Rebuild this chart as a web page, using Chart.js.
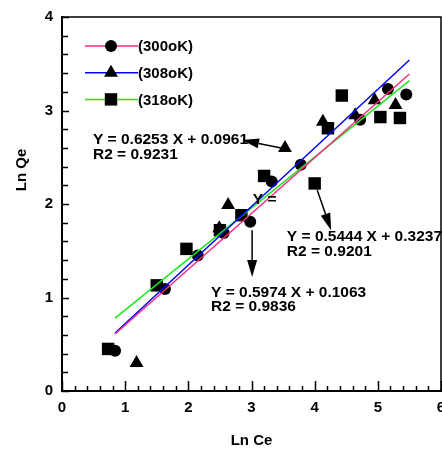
<!DOCTYPE html>
<html><head><meta charset="utf-8">
<script src="https://cdn.jsdelivr.net/npm/chart.js@4/dist/chart.umd.min.js"></script>
<style>html,body{margin:0;padding:0;background:#fff}#wrap{width:442px;height:450px}</style>
</head><body><div id="wrap"><canvas id="c" width="442" height="450"></canvas></div>
<script>
// ---- data ----
const seriesNames = ['(300oK)', '(308oK)', '(318oK)'];
const x300 = [0.84, 1.63, 2.15, 2.56, 2.98, 3.32, 3.78, 4.72, 5.16, 5.45];
const y300 = [0.43, 1.09, 1.45, 1.69, 1.81, 2.24, 2.42, 2.90, 3.23, 3.17];
const x308 = [1.18, 2.49, 2.63, 3.53, 4.13, 4.64, 4.95, 5.28];
const y308 = [0.30, 1.74, 1.99, 2.60, 2.88, 2.95, 3.11, 3.06];
const x318 = [0.73, 1.50, 1.97, 2.50, 2.84, 3.20, 4.00, 4.21, 4.43, 5.04, 5.35];
const y318 = [0.45, 1.13, 1.52, 1.72, 1.88, 2.30, 2.22, 2.81, 3.16, 2.93, 2.92];
// fitted straight lines (end points)
const fitX = [0.84, 5.50];
const fit300 = [0.61, 3.39];
const fit308 = [0.62, 3.54];
const fit318 = [0.78, 3.32];
const eq300 = ['Y = 0.5974 X + 0.1063', 'R2 = 0.9836'];
const eq308 = ['Y = 0.6253 X + 0.0961', 'R2 = 0.9231'];
const eq318 = ['Y = 0.5444 X + 0.3237', 'R2 = 0.9201'];
const xTicks = [0, 1, 2, 3, 4, 5, 6];
const yTicks = [0, 1, 2, 3, 4];
const xTitle = 'Ln Ce';
const yTitle = 'Ln Qe';

const lineColors = ['#ff2a80', '#0000ff', '#1ee81e'];
const markers = ['circle', 'triangle', 'rect'];
const FONT = '"Liberation Sans", Arial, sans-serif';

const pts = (xs, ys) => xs.map((v, i) => ({x: v, y: ys[i]}));

function drawMarker(ctx, style, cx, cy) {
  ctx.fillStyle = '#000';
  ctx.beginPath();
  if (style === 'circle') { ctx.arc(cx, cy, 6, 0, Math.PI * 2); }
  else if (style === 'triangle') {
    const r = 8;
    ctx.moveTo(cx, cy - r);
    ctx.lineTo(cx + r * 0.866, cy + r / 2);
    ctx.lineTo(cx - r * 0.866, cy + r / 2);
    ctx.closePath();
  } else { ctx.rect(cx - 6.2, cy - 6.2, 12.4, 12.4); }
  ctx.fill();
}

function arrow(ctx, x1, y1, x2, y2) {
  const ang = Math.atan2(y2 - y1, x2 - x1);
  const L = 17, W = 5;
  const bx = x2 - L * Math.cos(ang), by = y2 - L * Math.sin(ang);
  ctx.strokeStyle = '#000'; ctx.lineWidth = 1.5;
  ctx.beginPath(); ctx.moveTo(x1, y1); ctx.lineTo(bx, by); ctx.stroke();
  ctx.fillStyle = '#000';
  ctx.beginPath();
  ctx.moveTo(x2, y2);
  ctx.lineTo(bx + W * Math.sin(ang), by - W * Math.cos(ang));
  ctx.lineTo(bx - W * Math.sin(ang), by + W * Math.cos(ang));
  ctx.closePath(); ctx.fill();
}

// annotation placement in data units
const notes = [
  {text: eq308, at: [0.49, 2.684], from: [3.53, 2.59], to: [2.85, 2.684]},
  {text: eq318, at: [3.56, 1.647], from: [4.04, 2.15], to: [4.26, 1.72]},
  {text: eq300, at: [2.36, 1.053], from: [3.01, 1.72], to: [3.01, 1.22]}
];

const deco = {
  id: 'deco',
  afterDatasetsDraw(chart) {
    const {ctx, chartArea: a, scales: {x, y}} = chart;
    ctx.save();
    // frame top & right
    ctx.strokeStyle = '#000'; ctx.lineWidth = 1.5;
    ctx.beginPath();
    ctx.moveTo(a.left, a.top); ctx.lineTo(a.right, a.top); ctx.lineTo(a.right, a.bottom);
    ctx.stroke();
    // inner ticks
    ctx.lineWidth = 1.5;
    for (let i = 0; i <= 30; i++) {
      const px = Math.round(x.getPixelForValue(i * 0.2)) + 0.5;
      const len = i % 5 === 0 ? 10 : 5;
      ctx.beginPath(); ctx.moveTo(px, a.bottom); ctx.lineTo(px, a.bottom - len); ctx.stroke();
    }
    for (let i = 0; i <= 20; i++) {
      const py = Math.round(y.getPixelForValue(i * 0.2)) + 0.5;
      const len = i % 5 === 0 ? 7 : 6;
      ctx.beginPath(); ctx.moveTo(a.left, py); ctx.lineTo(a.left + len, py); ctx.stroke();
    }
    // legend
    ctx.font = 'bold 15px ' + FONT;
    ctx.textBaseline = 'middle'; ctx.textAlign = 'left';
    for (let i = 0; i < 3; i++) {
      const ly = 46 + 26.7 * i;
      ctx.strokeStyle = lineColors[i]; ctx.lineWidth = 1.5;
      ctx.beginPath(); ctx.moveTo(85, ly); ctx.lineTo(138, ly); ctx.stroke();
      drawMarker(ctx, markers[i], 111, ly);
      ctx.fillStyle = '#000';
      ctx.fillText(seriesNames[i], 138, ly + 1);
    }
    // equations and arrows
    ctx.font = 'bold 15.5px ' + FONT;
    for (const n of notes) {
      const tx = x.getPixelForValue(n.at[0]), ty = y.getPixelForValue(n.at[1]);
      ctx.fillStyle = '#000';
      ctx.textBaseline = 'middle';
      ctx.fillText(n.text[0], tx, ty);
      ctx.fillText(n.text[1], tx, ty + 14.5);
      arrow(ctx, x.getPixelForValue(n.from[0]), y.getPixelForValue(n.from[1]),
                 x.getPixelForValue(n.to[0]), y.getPixelForValue(n.to[1]));
    }
    // stray partial label
    ctx.fillStyle = '#000';
    ctx.fillText('Y =', x.getPixelForValue(3.02), y.getPixelForValue(2.043));
    // y title
    ctx.save();
    ctx.translate(22, 170);
    ctx.rotate(-Math.PI / 2);
    ctx.textAlign = 'center'; ctx.textBaseline = 'middle';
    ctx.font = 'bold 15px ' + FONT;
    ctx.fillText(yTitle, 0, 0);
    ctx.restore();
    ctx.restore();
  }
};

const datasets = [
  {data: pts(fitX, fit300), showLine: true, borderColor: lineColors[0], borderWidth: 1.5, pointRadius: 0, order: 1},
  {data: pts(fitX, fit308), showLine: true, borderColor: lineColors[1], borderWidth: 1.5, pointRadius: 0, order: 1},
  {data: pts(fitX, fit318), showLine: true, borderColor: lineColors[2], borderWidth: 1.5, pointRadius: 0, order: 1},
  {data: pts(x300, y300), pointStyle: 'circle', pointRadius: 6, backgroundColor: '#000', borderColor: '#000', borderWidth: 0, order: 2},
  {data: pts(x308, y308), pointStyle: 'triangle', pointRadius: 8, backgroundColor: '#000', borderColor: '#000', borderWidth: 0, order: 2},
  {data: pts(x318, y318), pointStyle: 'rect', pointRadius: 8.8, backgroundColor: '#000', borderColor: '#000', borderWidth: 0, order: 2}
];

new Chart(document.getElementById('c'), {
  type: 'scatter',
  data: {datasets},
  options: {
    responsive: false,
    animation: false,
    layout: {autoPadding: false, padding: {top: 17, right: 1, left: 0, bottom: 0}},
    plugins: {legend: {display: false}, tooltip: {enabled: false}},
    scales: {
      x: {
        type: 'linear', min: 0, max: 6,
        afterBuildTicks: s => { s.ticks = xTicks.map(v => ({value: v})); },
        ticks: {color: '#000', font: {family: FONT, size: 15, weight: 'bold'}, padding: 8, maxRotation: 0},
        grid: {display: false, drawTicks: false},
        border: {display: true, color: '#000', width: 2},
        title: {display: true, text: xTitle, color: '#000', font: {family: FONT, size: 15, weight: 'bold'}, padding: {top: 0, bottom: 0}},
        afterFit: s => { s.height = 59; s.paddingLeft = 0; s.paddingRight = 0; }
      },
      y: {
        type: 'linear', min: 0, max: 4,
        afterBuildTicks: s => { s.ticks = yTicks.map(v => ({value: v})); },
        ticks: {color: '#000', font: {family: FONT, size: 15, weight: 'bold'}, padding: 9},
        grid: {display: false, drawTicks: false},
        border: {display: true, color: '#000', width: 2},
        afterFit: s => { s.width = 62; s.paddingTop = 0; s.paddingBottom = 0; }
      }
    }
  },
  plugins: [deco]
});
</script>
</body></html>
